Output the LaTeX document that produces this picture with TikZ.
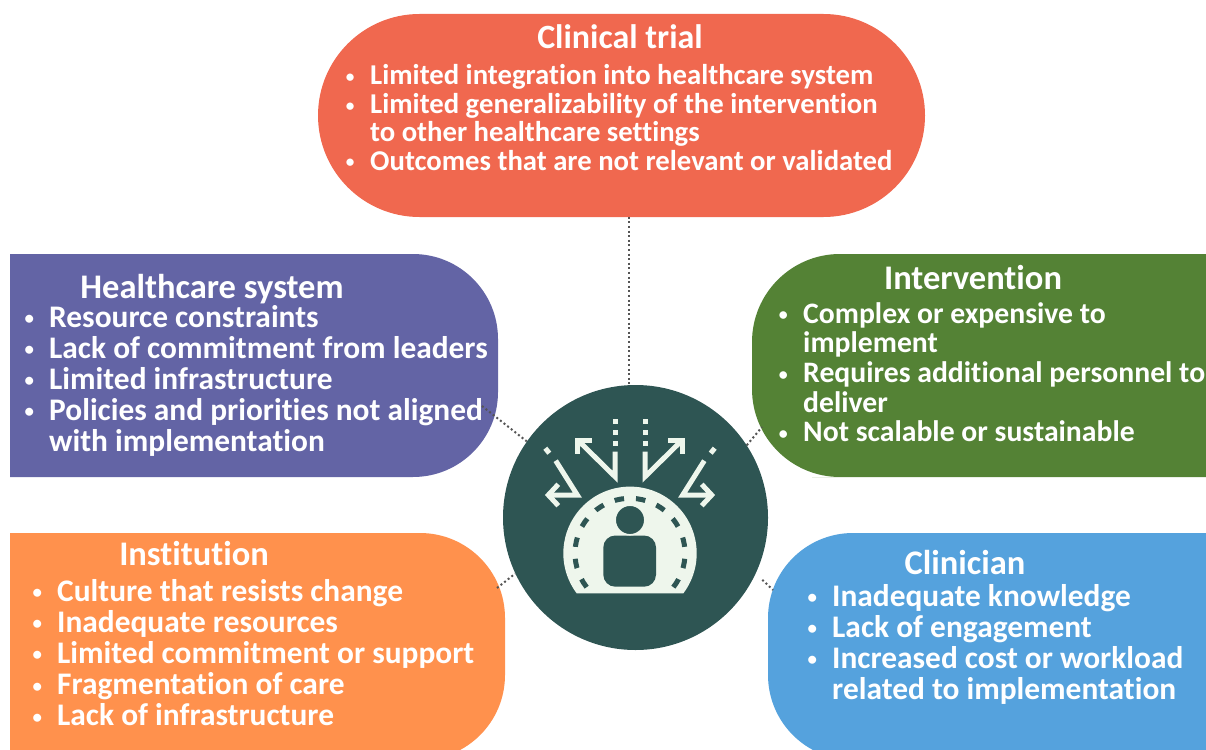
\documentclass[tikz,border=0pt]{standalone}
\usepackage{fontspec}
\usepackage{graphicx}
\setmainfont{Carlito}[Ligatures=NoCommon]
\usetikzlibrary{shapes.misc,calc}
\definecolor{ctcol}{HTML}{F0684F}
\definecolor{hscol}{HTML}{6364A5}
\definecolor{ivcol}{HTML}{548235}
\definecolor{incol}{HTML}{FF914D}
\definecolor{clcol}{HTML}{55A2DD}
\definecolor{hubcol}{HTML}{2E5553}
\definecolor{iconcol}{HTML}{EEF6EC}
\definecolor{dotcol}{HTML}{555555}
\newcommand{\mybul}{\makebox[40pt][c]{\raisebox{0.08em}{\scalebox{0.6}{\textbullet}}}}
\tikzset{
  conn/.style={draw=dotcol, line width=2pt, dash pattern=on 2pt off 2.6pt},
  ttl/.style={text=white, font=\bfseries\fontsize{34.5}{38}\selectfont, anchor=base, inner sep=0pt},
  lst/.style={text=white, anchor=base west, inner sep=0pt},
  icn/.style={draw=iconcol, line width=5pt, line cap=butt, line join=miter},
}
\begin{document}
\begin{tikzpicture}[x=1pt,y=-1pt]
\useasboundingbox (0,0) rectangle (1206,749);
\begin{scope}
\clip (0,0) rectangle (1206,749);
% boxes
\node[rounded rectangle, fill=ctcol, minimum width=607pt, minimum height=203pt, inner sep=0pt] (ct) at (621.5,115.5) {};
\fill[hscol] (10,254) -- (300,254) [rounded corners=85pt] -- (498,254) -- (498,477) -- (300,477) [sharp corners] -- (10,477) -- cycle;
\fill[ivcol] (1250,254) -- (900,254) [rounded corners=88pt] -- (752,254) -- (752,477) -- (900,477) [sharp corners] -- (1250,477) -- cycle;
\fill[incol] (10,533) -- (300,533) [rounded corners=85pt] -- (505,533) -- (505,760) -- (300,760) [sharp corners] -- (10,760) -- cycle;
\fill[clcol] (1250,533) -- (950,533) [rounded corners=85pt] -- (768,533) -- (768,760) -- (950,760) [sharp corners] -- (1250,760) -- cycle;
\end{scope}
% hub
\node[circle, fill=hubcol, minimum size=265pt, inner sep=0pt] (hub) at (635.5,517.5) {};
% connector end points
\coordinate (ctb) at (629,216.7);
\coordinate (hse) at (482,406);
\coordinate (ive) at (762,427);
\coordinate (ine) at (497,588);
\coordinate (cle) at (773,590);
\draw[conn] (ctb) -- (ctb |- hub.north);
\draw[conn] (hse) -- (hub.145);
\draw[conn] (hub.33) -- (ive);
\draw[conn] (ine) -- (hub.205);
\draw[conn, shorten <=9pt] (hub.-25) -- (cle);
% icon: dome
\fill[iconcol] (630,553.3) ++(36.87:66.7) arc[start angle=36.87, end angle=-216.87, radius=66.7] -- cycle;
\draw[hubcol, line width=5pt, dash pattern=on 9.5pt off 11.97pt] (630,553.3) ++(142:55) arc[start angle=142, end angle=398, radius=55];
% person
\fill[hubcol, rounded corners=12pt] (603.3,586.7) -- (603.3,535.5) -- (656,535.5) -- (656,586.7) -- cycle;
\filldraw[fill=hubcol, draw=iconcol, line width=1.5pt] (630,520) circle[radius=14.8];
% arrows up
\draw[icn] (615,451.7) -- (615,476.7) -- (577.7,440);
\draw[icn] (591.7,440) -- (577.7,440) -- (577.7,454);
\draw[icn, dash pattern=on 4.7pt off 6.3pt] (615,419.3) -- (615,446);
\draw[icn] (645,451.7) -- (645,476.7) -- (682.3,440);
\draw[icn] (668.3,440) -- (682.3,440) -- (682.3,454);
\draw[icn, dash pattern=on 4.7pt off 6.3pt] (645,419.3) -- (645,446);
% side arrows
\draw[icn] (545.3,448.2) -- (549.3,453.2);
\draw[icn] (555.7,460.7) -- (577.3,495) -- (548.3,495);
\draw[icn] (558.3,484.3) -- (548.3,495) -- (558.3,505.7);
\draw[icn] (714.7,448.2) -- (710.7,453.2);
\draw[icn] (704.3,460.7) -- (682.7,495) -- (711.7,495);
\draw[icn] (701.7,484.3) -- (711.7,495) -- (701.7,505.7);
% texts
\node[ttl, font=\bfseries\fontsize{34}{38}\selectfont] (ctt) at (620,49) {Clinical trial};
\node[lst, font=\bfseries\fontsize{28.7}{27.6}\selectfont] (ctl) at (330,85) {\begin{tabular}[t]{@{}l@{}l@{}}
\mybul&Limited integration into healthcare system\\
\mybul&Limited generalizability of the intervention\\
&to other healthcare settings\\
\mybul&Outcomes that are not relevant or validated
\end{tabular}};
\node[ttl] (hst) at (212,298.5) {Healthcare system};
\node[lst, font=\bfseries\fontsize{31.4}{30.4}\selectfont] (hsl) at (9,327) {\begin{tabular}[t]{@{}l@{}l@{}}
\mybul&Resource constraints\\
\mybul&Lack of commitment from leaders\\
\mybul&Limited infrastructure\\
\mybul&Policies and priorities not aligned\\
&with implementation
\end{tabular}};
\node[ttl] (ivt) at (973,289) {Intervention};
\node[lst, font=\bfseries\fontsize{29.7}{29.5}\selectfont] (ivl) at (763,323) {\begin{tabular}[t]{@{}l@{}l@{}}
\mybul&Complex or expensive to\\
&implement\\
\mybul&Requires additional personnel to\\
&deliver\\
\mybul&Not scalable or sustainable
\end{tabular}};
\node[ttl] (int) at (194,565) {Institution};
\node[lst, font=\bfseries\fontsize{31.4}{30.5}\selectfont] (inl) at (17,601) {\begin{tabular}[t]{@{}l@{}l@{}}
\mybul&Culture that resists change\\
\mybul&Inadequate resources\\
\mybul&Limited commitment or support\\
\mybul&Fragmentation of care\\
\mybul&Lack of infrastructure
\end{tabular}};
\node[ttl] (clt) at (965,574) {Clinician};
\node[lst, font=\bfseries\fontsize{31.4}{30}\selectfont] (cll) at (792,606) {\begin{tabular}[t]{@{}l@{}l@{}}
\mybul&Inadequate knowledge\\
\mybul&Lack of engagement\\
\mybul&Increased cost or workload\\
&related to implementation
\end{tabular}};
\end{tikzpicture}
\end{document}
